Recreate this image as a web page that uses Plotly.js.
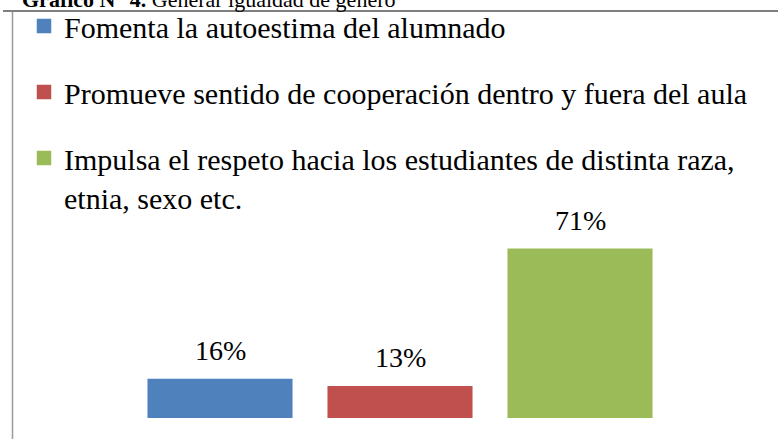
<!DOCTYPE html>
<html>
<head>
<meta charset="utf-8">
<script src="https://cdn.plot.ly/plotly-3.0.1.min.js"></script>
<style>
  html, body { margin: 0; padding: 0; background: #ffffff; }
  #chart { width: 778px; height: 439px; }
</style>
</head>
<body>
<div id="chart"></div>
<script>
// ---- data ----
const chartTitle = "<b>Gráfico N° 4.</b> Generar igualdad de género";
const categories = [
  "Fomenta la autoestima del alumnado",
  "Promueve sentido de cooperación dentro y fuera del aula",
  "Impulsa el respeto hacia los estudiantes de distinta raza,<br>etnia, sexo etc."
];
const values = [16, 13, 71];
const valueLabels = ["16%", "13%", "71%"];
const colors = ["#4F81BD", "#C0504D", "#9BBB59"];

// ---- layout geometry ----
const W = 778, H = 439;
const M = { l: 130, r: 108, t: 12, b: 21, autoexpand: false };
const plotW = W - M.l - M.r;
const plotH = H - M.t - M.b;
const px2x = p => (p - M.l) / plotW;
const px2y = p => (H - M.b - p) / plotH;

const serif = "'Liberation Serif', 'Times New Roman', Times, serif";

const traces = categories.map((c, i) => ({
  type: "bar",
  x: [c],
  y: [values[i]],
  name: c,
  legendgroup: "g" + i,
  marker: { color: colors[i], line: { width: 2.5, color: colors[i] } },
  width: 0.792,
  hoverinfo: "skip"
}));

const annotations = categories.map((c, i) => ({
  x: c, y: values[i], xref: "x", yref: "y",
  text: valueLabels[i],
  showarrow: false,
  xanchor: "center", yanchor: "bottom",
  yshift: 12,
  font: { family: serif, size: 28, color: "#000000" }
}));

annotations.push({
  xref: "paper", yref: "paper",
  x: px2x(20), y: px2y(14),
  xanchor: "left", yanchor: "bottom",
  text: chartTitle, showarrow: false,
  font: { family: serif, size: 22, color: "#000000" }
});

const layout = {
  width: W, height: H,
  margin: M,
  paper_bgcolor: "#ffffff",
  plot_bgcolor: "#ffffff",
  barmode: "overlay",
  showlegend: true,
  legend: {
    x: px2x(24), y: px2y(0),
    xanchor: "left", yanchor: "top",
    orientation: "v",
    font: { family: serif, size: 30, color: "#000000" },
    tracegroupgap: 24,
    valign: "top",
    itemclick: false, itemdoubleclick: false,
    bgcolor: "rgba(0,0,0,0)"
  },
  xaxis: {
    type: "category",
    categoryorder: "array",
    categoryarray: categories,
    range: [-0.5, 2.5],
    showticklabels: false, showgrid: false, zeroline: false, showline: false, ticks: ""
  },
  yaxis: {
    range: [0, plotH / 2.37],
    showticklabels: false, showgrid: false, zeroline: false, showline: false, ticks: ""
  },
  annotations: annotations,
  shapes: [
    { type: "line", xref: "paper", yref: "paper",
      x0: px2x(3), x1: px2x(778), y0: px2y(11), y1: px2y(11),
      line: { color: "#000000", width: 1.2 } },
    { type: "line", xref: "paper", yref: "paper",
      x0: px2x(12.5), x1: px2x(12.5), y0: px2y(12), y1: px2y(439),
      line: { color: "#9a9a9a", width: 1.5 } }
  ]
};

Plotly.newPlot("chart", traces, layout, { staticPlot: true, displayModeBar: false });
</script>
</body>
</html>
